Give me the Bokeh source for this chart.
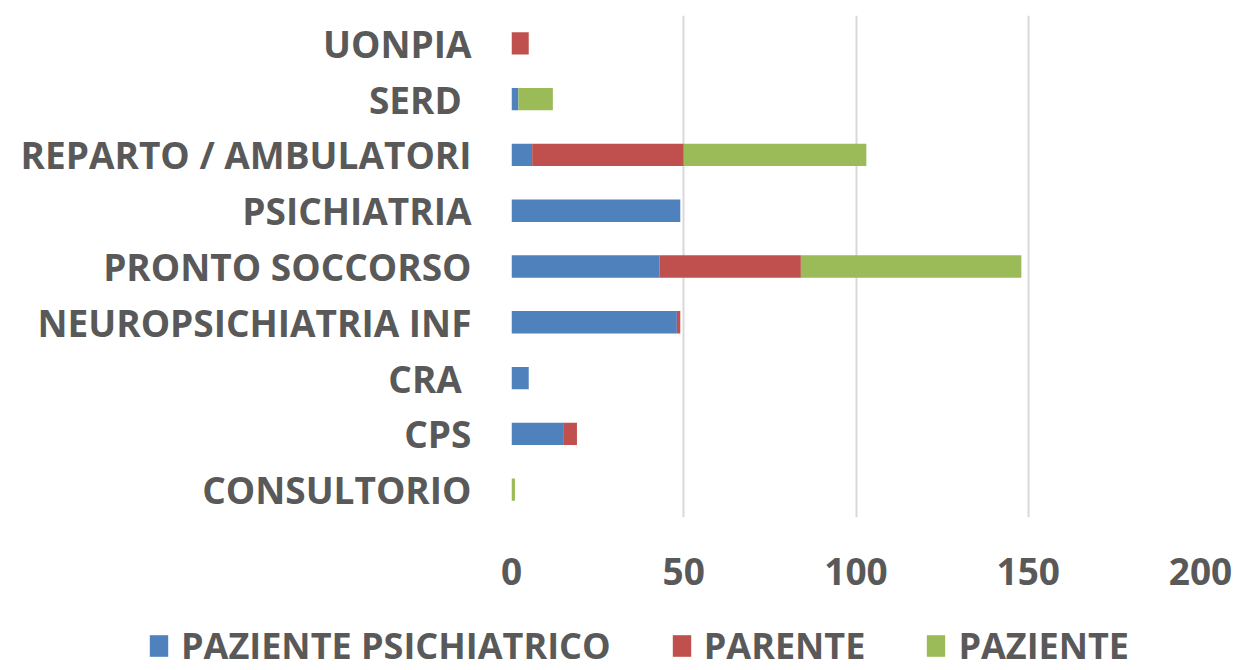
from bokeh.plotting import figure
from bokeh.models import ColumnDataSource, FixedTicker, Legend, Range1d
from bokeh.embed import file_html
from bokeh.resources import INLINE

categories = ["CONSULTORIO", "CPS", "CRA ", "NEUROPSICHIATRIA INF", "PRONTO SOCCORSO",
              "PSICHIATRIA", "REPARTO / AMBULATORI", "SERD ", "UONPIA"]
paziente_psichiatrico = [0, 15, 5, 48, 43, 49, 6, 2, 0]
parente = [0, 4, 0, 1, 41, 0, 44, 0, 5]
paziente = [1, 0, 0, 0, 64, 0, 53, 10, 0]
series = ["paziente_psichiatrico", "parente", "paziente"]
series_labels = ["PAZIENTE PSICHIATRICO", "PARENTE", "PAZIENTE"]
colors = ["#4F81BD", "#C0504D", "#9BBB59"]
x_ticks = [0, 50, 100, 150, 200]

FONT = "Open Sans"
TXT = "#595959"

source = ColumnDataSource(dict(cat=categories,
                               paziente_psichiatrico=paziente_psichiatrico,
                               parente=parente, paziente=paziente))

p = figure(y_range=categories, x_range=(0, 200), frame_width=689, frame_height=502,
           output_backend="svg", toolbar_location=None,
           min_border_left=511, min_border_right=47, min_border_top=15, min_border_bottom=90)

renderers = p.hbar_stack(series, y="cat", height=0.4, color=colors, source=source,
                         line_color=None)

p.outline_line_color = None
p.background_fill_color = "white"

p.ygrid.grid_line_color = None
p.xgrid.grid_line_color = "#D9D9D9"
p.xgrid.grid_line_width = 2
p.xaxis.ticker = FixedTicker(ticks=x_ticks)

for ax in (p.xaxis, p.yaxis):
    ax.axis_line_color = None
    ax.major_tick_line_color = None
    ax.minor_tick_line_color = None
    ax.major_label_text_font = FONT
    ax.major_label_text_font_style = "bold"
    ax.major_label_text_color = TXT
    ax.major_label_text_font_size = "37px"

p.yaxis.major_label_standoff = 34
p.xaxis.major_label_standoff = 34

# legend strip below the chart (its swatches are off-range placeholders)
lg = figure(width=1239, height=63, x_range=Range1d(0, 1), y_range=Range1d(0, 1),
            output_backend="svg", toolbar_location=None,
            x_axis_type=None, y_axis_type=None,
            min_border_left=0, min_border_right=0, min_border_top=0, min_border_bottom=0)
lg.outline_line_color = None
lg.xgrid.grid_line_color = None
lg.ygrid.grid_line_color = None
placeholder = ColumnDataSource(dict(y=[-10], left=[0], right=[0.001]))
lg_renderers = [lg.hbar(y="y", left="left", right="right", height=0.4, fill_color=c,
                        line_color=None, source=placeholder) for c in colors]

legend = Legend(items=[(lbl, [r]) for lbl, r in zip(series_labels, lg_renderers)],
                orientation="horizontal", location=(147, 0))
legend.label_text_font = FONT
legend.label_text_font_style = "bold"
legend.label_text_color = TXT
legend.label_text_font_size = "36px"
legend.glyph_width = 23
legend.glyph_height = 27
legend.spacing = 59
legend.label_standoff = 11
legend.border_line_color = None
legend.background_fill_alpha = 0
legend.padding = 0
legend.margin = 0
lg.add_layout(legend, "center")

open("out.html", "w").write(file_html([p, lg], INLINE))
